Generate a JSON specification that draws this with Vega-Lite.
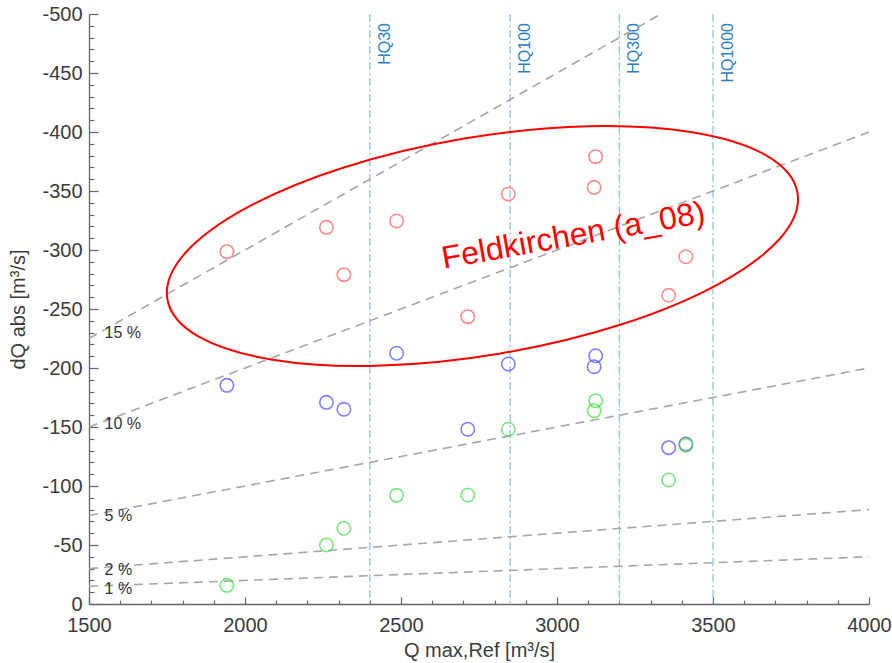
{
  "$schema": "https://vega.github.io/schema/vega-lite/v6.json",
  "width": 780,
  "height": 590,
  "autosize": {"type": "none"},
  "padding": {"left": 89, "top": 14, "right": 23, "bottom": 59},
  "background": "white",
  "config": {
    "view": {"stroke": null},
    "font": "Liberation Sans"
  },
  "resolve": {"axis": {"x": "independent", "y": "independent"}},
  "datasets": {
    "punkte": [
      {"reihe": "A", "q": 1942, "dq": -298.6},
      {"reihe": "A", "q": 2261, "dq": -319.2},
      {"reihe": "A", "q": 2317, "dq": -279.1},
      {"reihe": "A", "q": 2486, "dq": -324.6},
      {"reihe": "A", "q": 2714, "dq": -243.5},
      {"reihe": "A", "q": 2844, "dq": -347.5},
      {"reihe": "A", "q": 3119, "dq": -353.1},
      {"reihe": "A", "q": 3124, "dq": -379.1},
      {"reihe": "A", "q": 3358, "dq": -261.6},
      {"reihe": "A", "q": 3413, "dq": -294.3},
      {"reihe": "B", "q": 1942, "dq": -185.3},
      {"reihe": "B", "q": 2261, "dq": -170.9},
      {"reihe": "B", "q": 2317, "dq": -165.0},
      {"reihe": "B", "q": 2486, "dq": -212.5},
      {"reihe": "B", "q": 2714, "dq": -148.1},
      {"reihe": "B", "q": 2844, "dq": -203.4},
      {"reihe": "B", "q": 3119, "dq": -201.1},
      {"reihe": "B", "q": 3124, "dq": -210.4},
      {"reihe": "B", "q": 3358, "dq": -132.5},
      {"reihe": "B", "q": 3413, "dq": -135.6},
      {"reihe": "C", "q": 1942, "dq": -15.8},
      {"reihe": "C", "q": 2261, "dq": -50.0},
      {"reihe": "C", "q": 2317, "dq": -64.2},
      {"reihe": "C", "q": 2486, "dq": -92.1},
      {"reihe": "C", "q": 2714, "dq": -92.4},
      {"reihe": "C", "q": 2844, "dq": -148.1},
      {"reihe": "C", "q": 3119, "dq": -163.8},
      {"reihe": "C", "q": 3124, "dq": -172.3},
      {"reihe": "C", "q": 3358, "dq": -105.1},
      {"reihe": "C", "q": 3413, "dq": -134.5}
    ],
    "prozentlinien": [
      {"pct": "15 %", "q": 1500, "dq": -225},
      {"pct": "15 %", "q": 4000, "dq": -600},
      {"pct": "10 %", "q": 1500, "dq": -150},
      {"pct": "10 %", "q": 4000, "dq": -400},
      {"pct": "5 %", "q": 1500, "dq": -75},
      {"pct": "5 %", "q": 4000, "dq": -200},
      {"pct": "2 %", "q": 1500, "dq": -30},
      {"pct": "2 %", "q": 4000, "dq": -80},
      {"pct": "1 %", "q": 1500, "dq": -15},
      {"pct": "1 %", "q": 4000, "dq": -40}
    ],
    "prozentlabels": [
      {"pct": "15 %", "q": 1550, "dq": -232.5},
      {"pct": "10 %", "q": 1550, "dq": -155},
      {"pct": "5 %", "q": 1550, "dq": -77.5},
      {"pct": "2 %", "q": 1550, "dq": -31},
      {"pct": "1 %", "q": 1550, "dq": -15.5}
    ],
    "hq": [
      {"name": "HQ30", "q": 2400},
      {"name": "HQ100", "q": 2850},
      {"name": "HQ300", "q": 3200},
      {"name": "HQ1000", "q": 3500}
    ],
    "markierung": [
      {"q": 2761, "dq": -303.4}
    ],
    "beschriftung": [
      {"text": "Feldkirchen (a_08)", "q": 3058, "dq": -303.8}
    ]
  },
  "layer": [
    {
      "data": {"name": "hq"},
      "mark": {"type": "rule", "color": "#8cc2e6", "strokeWidth": 1.3, "strokeDash": [8, 3, 2, 3]},
      "encoding": {
        "x": {"field": "q", "type": "quantitative", "scale": {"domain": [1500, 4000], "nice": false, "zero": false}, "axis": null},
        "y": {"datum": -500, "type": "quantitative", "scale": {"domain": [-500, 0], "reverse": true, "nice": false, "zero": false}, "axis": null},
        "y2": {"datum": 0}
      }
    },
    {
      "data": {"name": "hq"},
      "mark": {"type": "text", "angle": 270, "align": "right", "baseline": "middle", "dx": -9, "dy": 15, "fontSize": 16, "color": "#2a80c6", "font": "Liberation Sans"},
      "encoding": {
        "x": {"field": "q", "type": "quantitative", "scale": {"domain": [1500, 4000], "nice": false, "zero": false}, "axis": null},
        "y": {"datum": -500, "type": "quantitative", "scale": {"domain": [-500, 0], "reverse": true, "nice": false, "zero": false}, "axis": null},
        "text": {"field": "name"}
      }
    },
    {
      "data": {"name": "prozentlinien"},
      "mark": {"type": "line", "clip": true, "color": "#a6a6a6", "strokeWidth": 1.6, "strokeDash": [9, 6]},
      "encoding": {
        "x": {
          "field": "q",
          "type": "quantitative",
          "scale": {"domain": [1500, 4000], "nice": false, "zero": false},
          "axis": {
            "orient": "bottom",
            "values": [1600, 1700, 1800, 1900, 2100, 2200, 2300, 2400, 2600, 2700, 2800, 2900, 3100, 3200, 3300, 3400, 3600, 3700, 3800, 3900],
            "labels": false,
            "domain": false,
            "grid": false,
            "title": null,
            "tickSize": -4,
            "tickColor": "#666666",
            "tickWidth": 1.2
          }
        },
        "y": {
          "field": "dq",
          "type": "quantitative",
          "scale": {"domain": [-500, 0], "reverse": true, "nice": false, "zero": false},
          "axis": {
            "orient": "left",
            "values": [-490, -480, -470, -460, -440, -430, -420, -410, -390, -380, -370, -360, -340, -330, -320, -310, -290, -280, -270, -260, -240, -230, -220, -210, -190, -180, -170, -160, -140, -130, -120, -110, -90, -80, -70, -60, -40, -30, -20, -10],
            "labels": false,
            "domain": false,
            "grid": false,
            "title": null,
            "tickSize": -5,
            "tickColor": "#666666",
            "tickWidth": 1.2
          }
        },
        "detail": {"field": "pct"}
      }
    },
    {
      "data": {"name": "prozentlabels"},
      "mark": {"type": "text", "align": "left", "baseline": "middle", "dy": 3, "fontSize": 16, "color": "#333333", "font": "Liberation Sans"},
      "encoding": {
        "x": {"field": "q", "type": "quantitative", "scale": {"domain": [1500, 4000], "nice": false, "zero": false}, "axis": null},
        "y": {"field": "dq", "type": "quantitative", "scale": {"domain": [-500, 0], "reverse": true, "nice": false, "zero": false}, "axis": null},
        "text": {"field": "pct"}
      }
    },
    {
      "data": {"name": "punkte"},
      "mark": {"type": "point", "shape": "circle", "filled": false, "size": 180, "strokeWidth": 1.6},
      "encoding": {
        "x": {
          "field": "q",
          "type": "quantitative",
          "title": "Q max,Ref [m³/s]",
          "scale": {"domain": [1500, 4000], "nice": false, "zero": false},
          "axis": {
            "orient": "bottom",
            "values": [1500, 2000, 2500, 3000, 3500, 4000],
            "labelExpr": "'' + datum.value",
            "tickSize": -7,
            "labelPadding": 18,
            "labelOverlap": false,
            "labelFlush": false,
            "labelBound": false,
            "labelFontSize": 20,
            "labelColor": "#3c3c3c",
            "labelFont": "Liberation Sans",
            "domainColor": "#666666",
            "domainWidth": 1.3,
            "tickColor": "#666666",
            "tickWidth": 1.2,
            "grid": false,
            "titleFont": "Liberation Sans",
            "titleFontSize": 20,
            "titleFontWeight": "normal",
            "titleColor": "#3c3c3c",
            "titlePadding": 5
          }
        },
        "y": {
          "field": "dq",
          "type": "quantitative",
          "title": "dQ abs [m³/s]",
          "scale": {"domain": [-500, 0], "reverse": true, "nice": false, "zero": false},
          "axis": {
            "orient": "left",
            "values": [-500, -450, -400, -350, -300, -250, -200, -150, -100, -50, 0],
            "labelExpr": "'' + datum.value",
            "tickSize": -9,
            "labelPadding": 16,
            "labelOverlap": false,
            "labelFlush": false,
            "labelBound": false,
            "labelFontSize": 20,
            "labelColor": "#3c3c3c",
            "labelFont": "Liberation Sans",
            "domainColor": "#666666",
            "domainWidth": 1.3,
            "tickColor": "#666666",
            "tickWidth": 1.2,
            "grid": false,
            "titleFont": "Liberation Sans",
            "titleFontSize": 20,
            "titleFontWeight": "normal",
            "titleColor": "#3c3c3c",
            "titlePadding": 13
          }
        },
        "color": {
          "field": "reihe",
          "type": "nominal",
          "scale": {"domain": ["A", "B", "C"], "range": ["#ff5a5a", "#4b4bff", "#40e040"]},
          "legend": null
        }
      }
    },
    {
      "data": {"name": "markierung"},
      "mark": {
        "type": "point",
        "shape": "M1,0 C1,0.1884 0.5523,0.3412 0,0.3412 C-0.5523,0.3412 -1,0.1884 -1,0 C-1,-0.1884 -0.5523,-0.3412 0,-0.3412 C0.5523,-0.3412 1,-0.1884 1,0 Z",
        "size": 408321,
        "angle": 350.4,
        "filled": false,
        "color": "#ff0000",
        "strokeWidth": 2,
        "opacity": 1
      },
      "encoding": {
        "x": {"field": "q", "type": "quantitative", "scale": {"domain": [1500, 4000], "nice": false, "zero": false}, "axis": null},
        "y": {"field": "dq", "type": "quantitative", "scale": {"domain": [-500, 0], "reverse": true, "nice": false, "zero": false}, "axis": null}
      }
    },
    {
      "data": {"name": "beschriftung"},
      "mark": {"type": "text", "angle": 350, "align": "center", "baseline": "alphabetic", "fontSize": 32, "color": "#ff0000", "font": "Liberation Sans"},
      "encoding": {
        "x": {"field": "q", "type": "quantitative", "scale": {"domain": [1500, 4000], "nice": false, "zero": false}, "axis": null},
        "y": {"field": "dq", "type": "quantitative", "scale": {"domain": [-500, 0], "reverse": true, "nice": false, "zero": false}, "axis": null},
        "text": {"field": "text"}
      }
    }
  ]
}
